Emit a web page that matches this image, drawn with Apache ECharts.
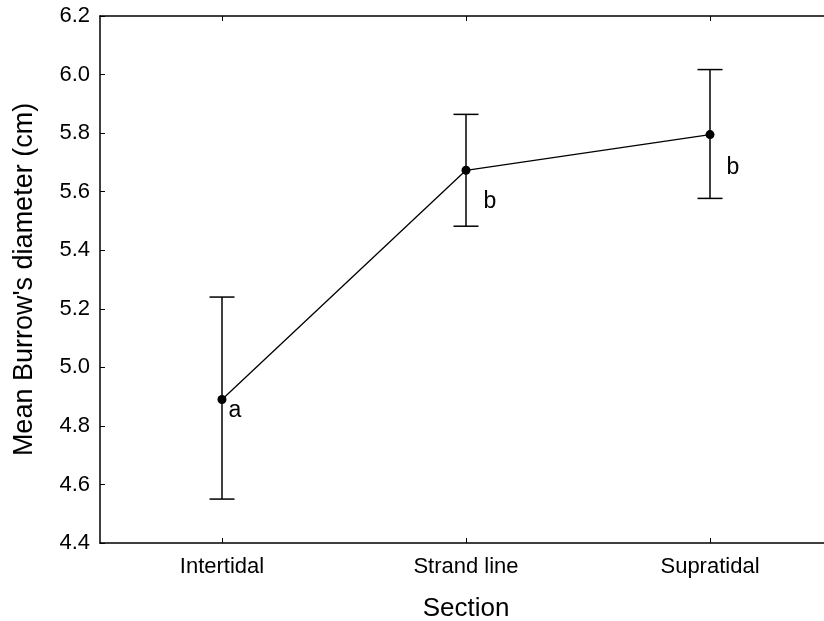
<!DOCTYPE html>
<html>
<head>
<meta charset="utf-8">
<script src="https://cdn.jsdelivr.net/npm/echarts@6/dist/echarts.min.js"></script>
<style>
  html, body { margin: 0; padding: 0; background: #fff; }
  #chart { width: 824px; height: 621px; }
</style>
</head>
<body>
<div id="chart"></div>
<script>
// data
var sections = ['Intertidal', 'Strand line', 'Supratidal']
var means = [4.89, 5.673, 5.795]
var lower = [4.55, 5.482, 5.577]
var upper = [5.24, 5.864, 6.017]
var letters = ['a', 'b', 'b']
var yTicks = [4.4, 4.6, 4.8, 5.0, 5.2, 5.4, 5.6, 5.8, 6.0, 6.2]

var letterOffsets = [[13, 11], [24, 31], [23, 33]]
var font = 'Liberation Sans'

var chart = echarts.init(document.getElementById('chart'))

var errData = sections.map(function (s, i) {
  return [i, lower[i], upper[i]]
})

chart.setOption({
  animation: false,
  grid: { left: 100, top: 16, right: -8, bottom: 78, containLabel: false, outerBoundsMode: 'none' },
  xAxis: [{
    type: 'category',
    data: sections,
    boundaryGap: true,
    name: 'Section',
    nameLocation: 'middle',
    nameGap: 53,
    nameTextStyle: { fontSize: 26, color: '#000', fontFamily: font },
    axisLine: { lineStyle: { color: '#000', width: 1.5 } },
    axisTick: { show: true, inside: true, alignWithLabel: true, length: 5, lineStyle: { color: '#000' } },
    axisLabel: { fontSize: 22, color: '#000', fontFamily: font, margin: 13 },
    splitLine: { show: false }
  }, {
    type: 'category',
    data: sections,
    position: 'top',
    boundaryGap: true,
    axisLine: { show: true, lineStyle: { color: '#000', width: 1.5 } },
    axisTick: { show: true, inside: true, alignWithLabel: true, length: 5, lineStyle: { color: '#000' } },
    axisLabel: { show: false }
  }],
  yAxis: {
    type: 'value',
    min: 4.4,
    max: 6.2,
    interval: 0.2,
    name: "Mean Burrow's diameter (cm)",
    nameLocation: 'middle',
    nameGap: 62,
    nameTextStyle: { fontSize: 27, color: '#000', fontFamily: font },
    axisLine: { show: true, lineStyle: { color: '#000', width: 1.5 } },
    axisTick: { show: true, inside: true, length: 5, lineStyle: { color: '#000' } },
    axisLabel: {
      fontSize: 22, color: '#000', fontFamily: font, margin: 10,
      formatter: function (v) {
        var t = yTicks.find(function (k) { return Math.abs(k - v) < 1e-6 })
        return t !== undefined ? t.toFixed(1) : ''
      }
    },
    splitLine: { show: false }
  },
  series: [{
    type: 'custom',
    data: errData,
    z: 3,
    renderItem: function (params, api) {
      var x = api.value(0)
      var lo = api.coord([x, api.value(1)])
      var hi = api.coord([x, api.value(2)])
      var cap = 12.5
      var style = { stroke: '#000', lineWidth: 1.5 }
      return {
        type: 'group',
        children: [
          { type: 'line', shape: { x1: lo[0], y1: lo[1], x2: hi[0], y2: hi[1] }, style: style },
          { type: 'line', shape: { x1: lo[0] - cap, y1: lo[1], x2: lo[0] + cap, y2: lo[1] }, style: style },
          { type: 'line', shape: { x1: hi[0] - cap, y1: hi[1], x2: hi[0] + cap, y2: hi[1] }, style: style }
        ]
      }
    }
  }, {
    type: 'line',
    z: 4,
    data: means.map(function (v, i) {
      return {
        value: v,
        label: { offset: letterOffsets[i] }
      }
    }),
    symbol: 'circle',
    symbolSize: 9,
    itemStyle: { color: '#000' },
    lineStyle: { color: '#000', width: 1.3 },
    label: {
      show: true,
      position: 'inside',
      fontSize: 23,
      color: '#000',
      fontFamily: font,
      formatter: function (p) { return letters[p.dataIndex] }
    }
  }]
})
</script>
</body>
</html>
